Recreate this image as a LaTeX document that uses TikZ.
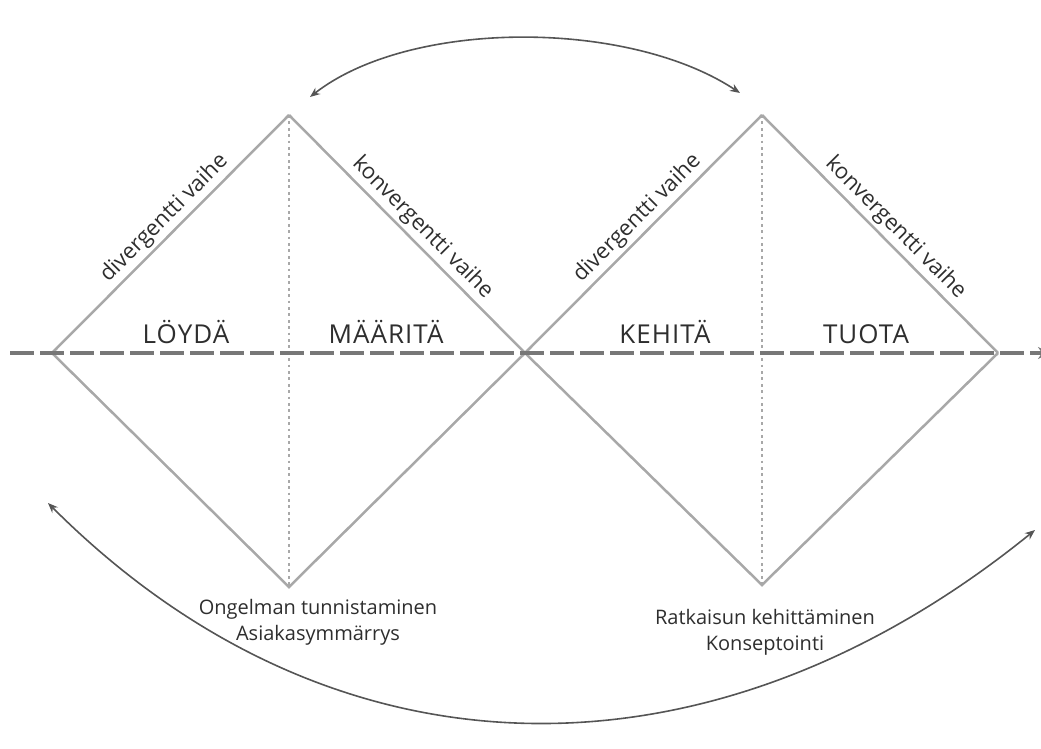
\documentclass[tikz,border=0pt]{standalone}
\usepackage{fontspec}
\setmainfont{Open Sans}
\usetikzlibrary{arrows.meta}
\definecolor{edgegray}{HTML}{A8A8A8}
\definecolor{axisgray}{HTML}{777777}
\definecolor{arcgray}{HTML}{555555}
\definecolor{textgray}{HTML}{2E2E2E}
\tikzset{
  edge/.style={draw=edgegray, line width=2.5pt},
  divider/.style={draw=edgegray, line width=2.8pt, dash pattern=on 2.8pt off 3.6pt},
  axis/.style={draw=axisgray, line width=4pt, dash pattern=on 24pt off 6pt},
  loop/.style={draw=arcgray, line width=1.6pt, {Stealth[length=10pt,width=8pt]}-{Stealth[length=10pt,width=8pt]}},
  phase/.style={font=\fontsize{26}{30}\selectfont\addfontfeatures{LetterSpace=4}, text=textgray, anchor=base},
  slopelabel/.style={font=\fontsize{22}{26}\selectfont, text=textgray, pos=0.52, sloped, above, inner sep=3pt},
  caption/.style={font=\fontsize{20}{26}\selectfont, text=textgray, align=center}
}
\begin{document}
\begin{tikzpicture}[x=1pt,y=-1pt]
\useasboundingbox (0,0) rectangle (1041,749);
% diamond vertices
\coordinate (L1) at (52,353);
\coordinate (T1) at (289,115);
\coordinate (M)  at (525,353);
\coordinate (B1) at (289,587);
\coordinate (T2) at (762,115);
\coordinate (R2) at (998,353);
\coordinate (B2) at (762,585);
\coordinate (axisA) at (10,353);
\coordinate (axisB) at (1050,353);

% vertical dividers
\draw[divider] (T1) -- (B1);
\draw[divider] (T2) -- (B2);

% diamond outlines with slope labels
\draw[edge] (L1) -- node[slopelabel]{divergentti vaihe} (T1);
\draw[edge] (T1) -- node[slopelabel]{konvergentti vaihe} (M);
\draw[edge] (M) -- node[slopelabel]{divergentti vaihe} (T2);
\draw[edge] (T2) -- node[slopelabel]{konvergentti vaihe} (R2);
\draw[edge] (L1) -- (B1) -- (M) -- (B2) -- (R2);

% dashed time axis
\draw[axis, -{Stealth[length=12pt,width=12pt]}] (axisA) -- (axisB);

% phase names
\node[phase] (find)   at (186,343) {LÖYDÄ};
\node[phase] (define) at (386,343) {MÄÄRITÄ};
\node[phase] (devel)  at (665,343) {KEHITÄ};
\node[phase] (deliv)  at (866,343) {TUOTA};

% captions under the diamonds
\node[caption] (cap1) at (318,622) {Ongelman tunnistaminen\\Asiakasymmärrys};
\node[caption] (cap2) at (765,632) {Ratkaisun kehittäminen\\Konseptointi};

% iteration arcs
\coordinate (ta) at (310,97);
\coordinate (tb) at (740,93);
\draw[loop] (ta) .. controls (410,19) and (628,19) .. (tb);
\coordinate (ba) at (48,503);
\coordinate (bb) at (1035,530);
\draw[loop] (ba) .. controls (336,791) and (713,791) .. (bb);
\end{tikzpicture}
\end{document}
